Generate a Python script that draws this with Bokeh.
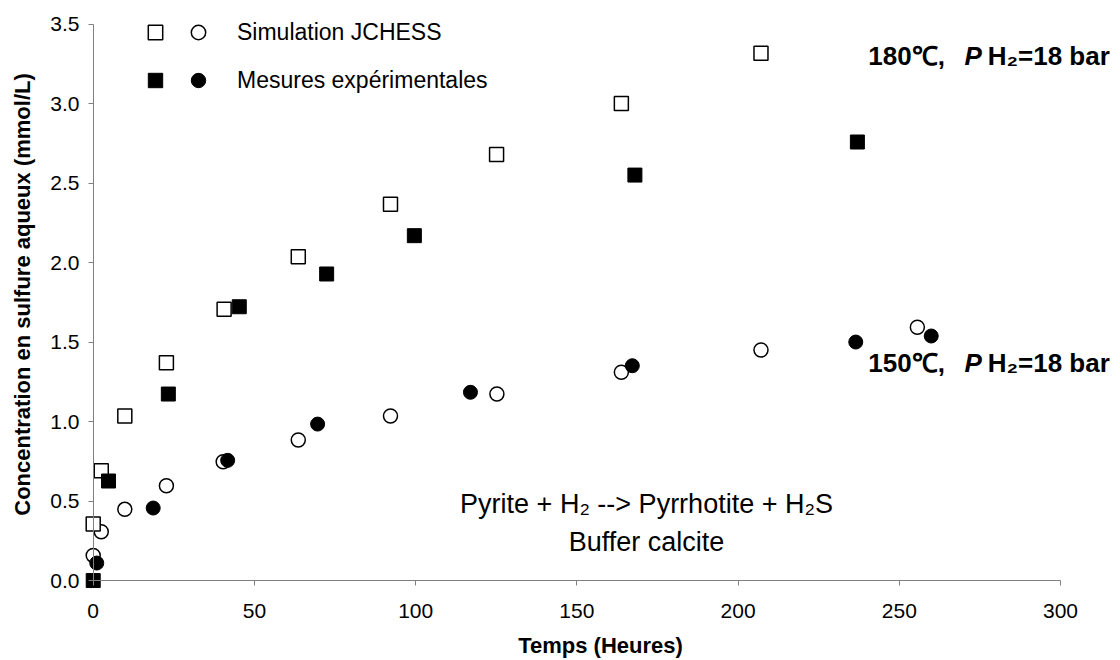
import math
from bokeh.plotting import figure
from bokeh.models import Range1d, FixedTicker, Label, Legend, LegendItem, LinearAxis
from bokeh.core.properties import value
from bokeh.embed import file_html
from bokeh.resources import INLINE

# ---------------- data ----------------
# 180 °C  -- simulation JCHESS (open squares)
sim180_t = [0, 2.5, 9.8, 22.7, 40.6, 63.6, 92.2, 125.1, 163.8, 207.1]
sim180_c = [0.355, 0.69, 1.035, 1.37, 1.706, 2.037, 2.366, 2.68, 3.00, 3.316]
# 180 °C  -- measurements (filled squares)
exp180_t = [0, 4.75, 23.3, 45.3, 72.4, 99.6, 168.0, 237.0]
exp180_c = [0.0, 0.626, 1.173, 1.722, 1.928, 2.169, 2.55, 2.758]
# 150 °C  -- simulation JCHESS (open circles)
sim150_t = [0, 2.5, 9.8, 22.7, 40.3, 63.6, 92.2, 125.2, 163.8, 207.1, 255.6]
sim150_c = [0.158, 0.307, 0.448, 0.596, 0.747, 0.884, 1.035, 1.173, 1.31, 1.45, 1.593]
# 150 °C  -- measurements (filled circles)
exp150_t = [1.1, 18.6, 41.7, 69.6, 117.0, 167.2, 236.5, 259.9]
exp150_c = [0.11, 0.456, 0.756, 0.984, 1.184, 1.351, 1.50, 1.538]

x_ticks = [0, 50, 100, 150, 200, 250, 300]
x_tick_labels = ["0", "50", "100", "150", "200", "250", "300"]
y_ticks = [0.0, 0.5, 1.0, 1.5, 2.0, 2.5, 3.0, 3.5]
y_tick_labels = ["0.0", "0.5", "1.0", "1.5", "2.0", "2.5", "3.0", "3.5"]

series_names = ["Simulation JCHESS", "Mesures expérimentales"]
x_title = "Temps (Heures)"
y_title = "Concentration en sulfure aqueux (mmol/L)"
reaction_lines = ["Pyrite + H\u2082 --> Pyrrhotite + H\u2082S", "Buffer calcite"]
cond_temps = ["180\u2103,", "150\u2103,"]
cond_p = "P"
cond_rest = "H\u2082=18 bar"

FONT = "Liberation Sans"
AXIS_GREY = "#808080"

# ---------------- figure ----------------
p = figure(frame_width=1032, frame_height=588,
           x_range=Range1d(-2.70, 317.36), y_range=Range1d(-0.05, 3.648),
           output_backend="svg", toolbar_location=None,
           min_border_left=84, min_border_right=2,
           min_border_top=0, min_border_bottom=0)
p.outline_line_color = None
p.grid.grid_line_color = None
p.background_fill_color = "white"
p.border_fill_color = "white"

# label-carrying axes (at the frame edges, no line / ticks)
for ax in (p.xaxis[0], p.yaxis[0]):
    ax.axis_line_color = None
    ax.major_tick_line_color = None
    ax.major_tick_out = 0
    ax.major_tick_in = 0
    ax.minor_tick_line_color = None
    ax.major_label_text_font = FONT
    ax.major_label_text_font_size = "21px"
    ax.major_label_text_color = "#000000"
    ax.axis_label_text_font = FONT
    ax.axis_label_text_font_size = "22px"
    ax.axis_label_text_font_style = "bold"
    ax.axis_label_text_color = "#000000"

p.xaxis.ticker = FixedTicker(ticks=x_ticks)
p.xaxis.major_label_overrides = {t: l for t, l in zip(x_ticks, x_tick_labels)}
p.xaxis.major_label_standoff = 15
p.xaxis.axis_label = x_title
p.xaxis.axis_label_standoff = 12

p.yaxis.ticker = FixedTicker(ticks=y_ticks)
p.yaxis.major_label_overrides = {t: l for t, l in zip(y_ticks, y_tick_labels)}
p.yaxis.major_label_standoff = 5
p.yaxis.axis_label = y_title
p.yaxis.axis_label_standoff = 12

# line-carrying axes crossing at the origin (labels not drawn)
def line_axis(ticks, bounds):
    return LinearAxis(fixed_location=0, ticker=FixedTicker(ticks=ticks), bounds=bounds,
                      axis_line_color=AXIS_GREY, axis_line_width=1,
                      major_tick_line_color=AXIS_GREY, major_tick_out=5, major_tick_in=0,
                      minor_tick_line_color=None, major_label_text_color=None,
                      major_label_text_alpha=0, major_label_text_font_size="1px",
                      major_label_standoff=0)

p.add_layout(line_axis(x_ticks, (x_ticks[0], x_ticks[-1])), "below")
p.add_layout(line_axis(y_ticks, (y_ticks[0], y_ticks[-1])), "left")

# ---------------- markers ----------------
MS = 14
r_sim150 = p.scatter(sim150_t, sim150_c, marker="circle", size=MS, fill_color="white",
                     line_color="black", line_width=1.5)
r_sim180 = p.scatter(sim180_t, sim180_c, marker="square", size=MS, fill_color="white",
                     line_color="black", line_width=1.5)
r_exp150 = p.scatter(exp150_t, exp150_c, marker="circle", size=MS, fill_color="black",
                     line_color="black", line_width=1)
r_exp180 = p.scatter(exp180_t, exp180_c, marker="square", size=MS, fill_color="black",
                     line_color="black", line_width=1)

# ---------------- legend (two side-by-side marker columns) ----------------
common = dict(glyph_width=36, glyph_height=36, spacing=12, padding=0, margin=0,
              border_line_color=None, background_fill_alpha=0,
              label_text_font=FONT, label_height=20)

leg_sq = Legend(items=[LegendItem(label=value(" "), renderers=[r_sim180]),
                       LegendItem(label=value(" "), renderers=[r_exp180])],
                location=(53, 490), label_standoff=0, label_width=0,
                label_text_font_size="10px", label_text_color=None,
                label_text_alpha=0, **common)
leg_ci = Legend(items=[LegendItem(label=value(series_names[0]), renderers=[r_sim150]),
                       LegendItem(label=value(series_names[1]), renderers=[r_exp150])],
                location=(96, 490), label_standoff=21,
                label_text_font_size="23px", label_text_color="#000000", **common)
p.add_layout(leg_sq)
p.add_layout(leg_ci)

# ---------------- texts ----------------
def lab(x, y, text, size, style="normal", align="left", baseline="alphabetic"):
    p.add_layout(Label(x=x, y=y, text=text, text_font=FONT, text_font_size=size,
                       text_font_style=style, text_align=align,
                       text_baseline=baseline, text_color="black"))

# conditions
for yy, temp in zip([3.302, 1.37], cond_temps):
    lab(240.4, yy, temp, "26px", "bold")
    lab(270.2, yy, cond_p, "26px", "bold italic")
    lab(277.4, yy, cond_rest, "26px", "bold")

# reaction
lab(171.6, 0.484, reaction_lines[0], "27px", "normal", "center")
lab(171.6, 0.241, reaction_lines[1], "27px", "normal", "center")

open("out.html", "w").write(file_html(p, INLINE))
